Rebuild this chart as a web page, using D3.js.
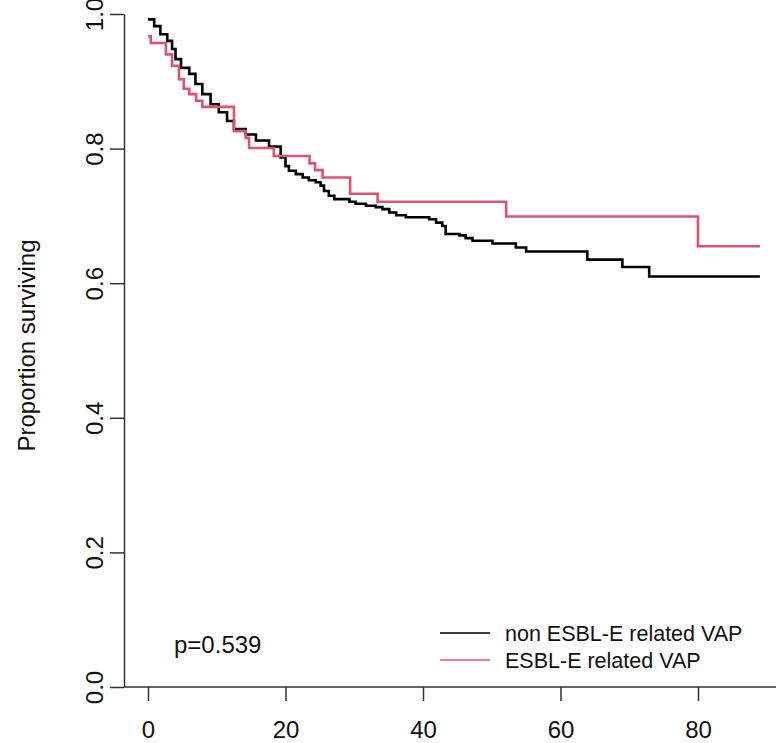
<!DOCTYPE html>
<html>
<head>
<meta charset="utf-8">
<script src="https://cdn.jsdelivr.net/npm/d3@7"></script>
<style>
  body { margin: 0; background: #fff; }
  svg { display: block; font-family: "Liberation Sans", Arial, sans-serif; }
</style>
</head>
<body>
<div id="chart"></div>
<script>
// survival curves (time in days, proportion surviving)
const nonEsblTimes = [0, 0.9, 1.8, 2.8, 3.5, 4.0, 4.8, 6.0, 6.9, 7.9, 9.1, 10.3, 11.5, 12.5, 14.2, 15.7, 17.6, 19.3, 20.0, 20.5, 21.5, 22.5, 23.4, 24.4, 25.1, 25.6, 26.3, 27.1, 29.3, 30.2, 31.7, 33.1, 34.1, 35.1, 36.1, 37.5, 40.9, 41.9, 42.8, 43.3, 45.3, 46.2, 47.2, 50.1, 53.5, 55.0, 63.9, 69.0, 72.9, 89];
const nonEsblSurv  = [0.992, 0.982, 0.970, 0.960, 0.948, 0.933, 0.920, 0.911, 0.896, 0.881, 0.866, 0.854, 0.841, 0.829, 0.821, 0.812, 0.803, 0.787, 0.774, 0.767, 0.762, 0.757, 0.753, 0.750, 0.745, 0.737, 0.730, 0.725, 0.721, 0.718, 0.715, 0.713, 0.710, 0.705, 0.701, 0.698, 0.695, 0.690, 0.685, 0.673, 0.671, 0.667, 0.663, 0.659, 0.653, 0.647, 0.635, 0.624, 0.610, 0.610];

const esblTimes = [0, 0.4, 2.6, 3.5, 4.5, 5.2, 6.0, 7.0, 7.9, 12.5, 14.2, 14.7, 18.3, 23.5, 24.3, 25.4, 29.4, 33.4, 52.1, 80, 89];
const esblSurv  = [0.967, 0.957, 0.940, 0.923, 0.903, 0.889, 0.881, 0.871, 0.862, 0.826, 0.816, 0.801, 0.789, 0.778, 0.768, 0.757, 0.733, 0.721, 0.699, 0.655, 0.655];

const xTicks = [0, 20, 40, 60, 80];
const yTicks = [0, 0.2, 0.4, 0.6, 0.8, 1.0];
const seriesNames = ["non ESBL-E related VAP", "ESBL-E related VAP"];
const seriesColors = ["#000000", "#DF536B"];
const pValueText = "p=0.539";

const W = 776, H = 743;
const svg = d3.select("#chart").append("svg")
  .attr("width", W).attr("height", H);

const x = d3.scaleLinear().domain([0, 80]).range([148, 698]);
const y = d3.scaleLinear().domain([0, 1]).range([687, 14]);

// y axis
const yAxis = d3.axisLeft(y).tickValues(yTicks).tickFormat(d3.format(".1f"))
  .tickSize(14).tickSizeOuter(0);
const gy = svg.append("g").attr("transform", "translate(124,0)").call(yAxis);
gy.select(".domain").attr("stroke", "#333").attr("stroke-width", 1.5);
gy.selectAll(".tick line").attr("stroke", "#333").attr("stroke-width", 1.5);
gy.selectAll(".tick text")
  .attr("font-size", 24).attr("fill", "#111")
  .attr("transform", "rotate(-90)")
  .attr("x", 0).attr("y", -29)
  .attr("dy", "0.35em")
  .attr("text-anchor", "middle");

// x axis on the zero line
const xAxis = d3.axisBottom(x).tickValues(xTicks).tickFormat(d3.format("d"))
  .tickSize(14).tickSizeOuter(0);
const gx = svg.append("g").attr("transform", `translate(0,${y(0)})`).call(xAxis);
gx.select(".domain").attr("d", `M124,0H${W}`).attr("stroke", "#333").attr("stroke-width", 1.5);
gx.selectAll(".tick line").attr("stroke", "#333").attr("stroke-width", 1.5);
gx.selectAll(".tick text").attr("font-size", 24).attr("fill", "#111").attr("y", 34);

// y label
svg.append("text")
  .attr("transform", `translate(27,${(y(0) + y(1)) / 2 - 5}) rotate(-90)`)
  .attr("text-anchor", "middle").attr("dy", "0.35em")
  .attr("font-size", 24).attr("fill", "#111")
  .text("Proportion surviving");

// curves
const line = d3.line()
  .x(d => x(d[0])).y(d => y(d[1]))
  .curve(d3.curveStepAfter);

const curves = [
  d3.zip(nonEsblTimes, nonEsblSurv),
  d3.zip(esblTimes, esblSurv)
];
curves.forEach((pts, i) => {
  svg.append("path")
    .datum(pts)
    .attr("fill", "none")
    .attr("stroke", seriesColors[i])
    .attr("stroke-width", 2.6)
    .attr("d", line);
});

// p value
svg.append("text")
  .attr("x", 174).attr("y", 645).attr("dy", "0.35em")
  .attr("font-size", 24).attr("fill", "#111")
  .text(pValueText);

// legend
const leg = svg.append("g");
seriesNames.forEach((name, i) => {
  const ly = 633 + i * 27;
  leg.append("line")
    .attr("x1", 440).attr("x2", 490).attr("y1", ly).attr("y2", ly)
    .attr("stroke", i === 0 ? "#000" : "#F0506A").attr("stroke-width", 1.5);
  leg.append("text")
    .attr("x", 505).attr("y", ly).attr("dy", "0.35em")
    .attr("font-size", 21.5).attr("fill", "#111")
    .text(name);
});
</script>
</body>
</html>
